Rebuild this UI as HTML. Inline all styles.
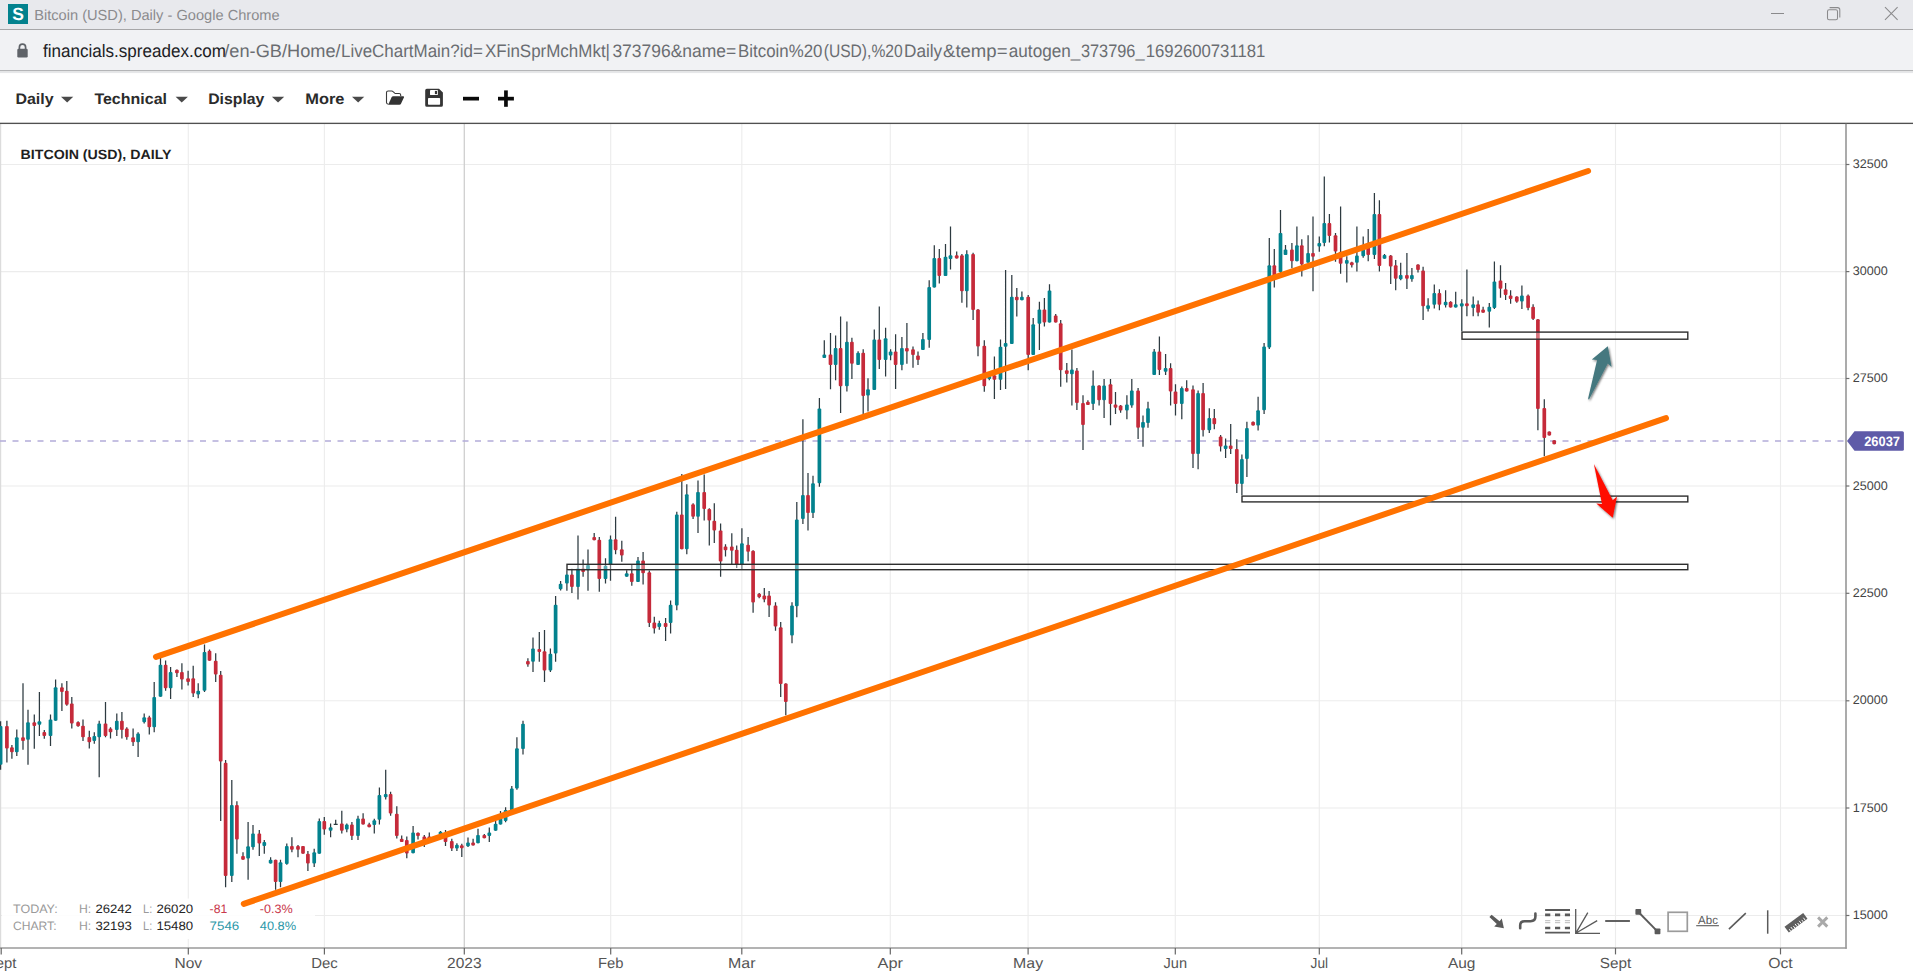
<!DOCTYPE html><html><head><meta charset="utf-8"><title>Bitcoin (USD), Daily</title><style>html,body{margin:0;padding:0;background:#fff;overflow:hidden;font-family:"Liberation Sans",sans-serif}svg{display:block}</style></head><body><svg width="1913" height="980" viewBox="0 0 1913 980" font-family='"Liberation Sans", sans-serif' text-rendering="geometricPrecision"><rect x="0" y="0" width="1913" height="980" fill="#ffffff"/>
<rect x="0" y="0" width="1913" height="29" fill="#e8e9ed"/>
<rect x="0" y="29" width="1913" height="1" fill="#a6a6a8"/>
<rect x="0" y="30" width="1913" height="41" fill="#f1f2f4"/>
<rect x="0" y="70" width="1913" height="1.4" fill="#b4b5b7"/>
<rect x="0" y="71.3" width="1913" height="1.8" fill="#e6e7e9"/>
<rect x="8" y="4" width="20" height="20" fill="#03828e"/>
<text x="18" y="20.3" font-size="17.5" fill="#ffffff" font-weight="bold" text-anchor="middle">S</text>
<text x="34.2" y="20.2" font-size="14.6" fill="#8b8b8d" textLength="245.5" lengthAdjust="spacingAndGlyphs">Bitcoin (USD), Daily - Google Chrome</text>
<g fill="none" stroke="#8a8a8c" stroke-width="1.05">
<path d="M1771 13.5H1784"/>
<rect x="1827.5" y="9.8" width="10" height="10" rx="1.6"/>
<path d="M1829.6 7.6H1837.6Q1839.8 7.6 1839.8 9.8V17.6"/>
<path d="M1885 7.2L1897.6 19.9M1897.6 7.2L1885 19.9"/>
</g>
<g fill="#5f6368"><rect x="17.3" y="48.8" width="10.4" height="8.6" rx="1.2"/><path d="M19.4 49.5V47.3a3.1 3.1 0 0 1 6.2 0V49.5" fill="none" stroke="#5f6368" stroke-width="1.7"/></g>
<text x="42.9" y="56.7" font-size="18" fill="#202124" textLength="183" lengthAdjust="spacingAndGlyphs">financials.spreadex.com</text>
<text x="224.3" y="56.7" font-size="18" fill="#6a6d71" textLength="116.3" lengthAdjust="spacingAndGlyphs">/en-GB/Home/</text>
<text x="341" y="56.7" font-size="18" fill="#6a6d71" textLength="141.8" lengthAdjust="spacingAndGlyphs">LiveChartMain?id=</text>
<text x="485" y="56.7" font-size="18" fill="#6a6d71" textLength="125" lengthAdjust="spacingAndGlyphs">XFinSprMchMkt|</text>
<text x="612.4" y="56.7" font-size="18" fill="#6a6d71" textLength="123.8" lengthAdjust="spacingAndGlyphs">373796&amp;name=</text>
<text x="738.1" y="56.7" font-size="18" fill="#6a6d71" textLength="84.3" lengthAdjust="spacingAndGlyphs">Bitcoin%20</text>
<text x="823.7" y="56.7" font-size="18" fill="#6a6d71" textLength="79" lengthAdjust="spacingAndGlyphs">(USD),%20</text>
<text x="904" y="56.7" font-size="18" fill="#6a6d71" textLength="38.2" lengthAdjust="spacingAndGlyphs">Daily</text>
<text x="943" y="56.7" font-size="18" fill="#6a6d71" textLength="64.5" lengthAdjust="spacingAndGlyphs">&amp;temp=</text>
<text x="1008.8" y="56.7" font-size="18" fill="#6a6d71" textLength="71.5" lengthAdjust="spacingAndGlyphs">autogen_</text>
<text x="1080.9" y="56.7" font-size="18" fill="#6a6d71" textLength="63.6" lengthAdjust="spacingAndGlyphs">373796_</text>
<text x="1145.8" y="56.7" font-size="18" fill="#6a6d71" textLength="119.5" lengthAdjust="spacingAndGlyphs">1692600731181</text>
<text x="15.4" y="104.1" font-size="15.2" fill="#2b2b2b" font-weight="bold" textLength="38.2" lengthAdjust="spacingAndGlyphs">Daily</text>
<path d="M61 96.7H73.3L67.15 102.5Z" fill="#4a4a4a"/>
<text x="94.4" y="104.1" font-size="15.2" fill="#2b2b2b" font-weight="bold" textLength="72.6" lengthAdjust="spacingAndGlyphs">Technical</text>
<path d="M175.6 96.7H187.9L181.75 102.5Z" fill="#4a4a4a"/>
<text x="208.2" y="104.1" font-size="15.2" fill="#2b2b2b" font-weight="bold" textLength="56.2" lengthAdjust="spacingAndGlyphs">Display</text>
<path d="M271.9 96.7H284.2L278.04999999999995 102.5Z" fill="#4a4a4a"/>
<text x="305.3" y="104.1" font-size="15.2" fill="#2b2b2b" font-weight="bold" textLength="39.2" lengthAdjust="spacingAndGlyphs">More</text>
<path d="M352 96.7H364.3L358.15 102.5Z" fill="#4a4a4a"/>
<path d="M388.4 104.2q-1.9 0-1.9-1.6V92.6q0-1.6 1.6-1.6h3.6q.8 0 1.4.6l1.6 1.5q.5.4 1.2.4h3.3q1.5 0 1.5 1.4v1.2" fill="none" stroke="#3a3a3a" stroke-width="1.1"/>
<path d="M388.2 104.8l3.3-7.4q.5-1.1 1.7-1.1h9.9q1.3 0 .8 1.2l-2.9 6.3q-.5 1-1.6 1z" fill="#333"/>
<path d="M426.8 88.8h12.2l3.9 3.7v12.7q0 1.6-1.6 1.6h-14.5q-1.6 0-1.6-1.6v-14.8q0-1.6 1.6-1.6z" fill="#353535"/>
<rect x="428.0" y="98.0" width="12.1" height="6.8" rx="0.7" fill="#ffffff"/>
<rect x="430.0" y="90.0" width="7.9" height="5.0" rx="0.4" fill="#ffffff"/>
<rect x="434.9" y="90.9" width="2.2" height="3.2" fill="#353535"/>
<rect x="463.0" y="96.8" width="16" height="3.7" fill="#0a0a0a"/>
<rect x="498.0" y="96.8" width="15.9" height="3.7" fill="#0a0a0a"/>
<rect x="504.1" y="90.4" width="3.7" height="16.4" fill="#0a0a0a"/>
<g stroke="#ececec" stroke-width="1.1">
<path d="M188.3 124V948.0"/>
<path d="M324.4 124V948.0"/>
<path d="M610.7 124V948.0"/>
<path d="M741.8 124V948.0"/>
<path d="M890.3 124V948.0"/>
<path d="M1028.1 124V948.0"/>
<path d="M1175.3 124V948.0"/>
<path d="M1319.3 124V948.0"/>
<path d="M1461.7 124V948.0"/>
<path d="M1615.5 124V948.0"/>
<path d="M1780.5 124V948.0"/>
<path d="M0 915.5H1846.0"/>
<path d="M0 808.0H1846.0"/>
<path d="M0 700.8H1846.0"/>
<path d="M0 593.3H1846.0"/>
<path d="M0 486.0H1846.0"/>
<path d="M0 378.5H1846.0"/>
<path d="M0 271.6H1846.0"/>
<path d="M0 164.5H1846.0"/>
</g>
<path d="M464.3 124V948.0" stroke="#cfcfcf" stroke-width="1.3"/>
<path d="M0.6 124V948.0" stroke="#dcdcdc" stroke-width="1.2"/>
<rect x="2" y="898.5" width="313" height="40.5" fill="#ffffff" fill-opacity="0.9"/>
<path d="M0 441H1846.0" stroke="#b3acd9" stroke-width="1.5" stroke-dasharray="6 6.5" fill="none"/>
<path d="M0.6 721.2V769.8M6.9 720.8V762.5M11.9 744.9V758.7M16.8 729.6V755.9M23 683.3V749.8M28 709.7V764.8M34.3 714.6V748.7M39.4 692.1V736M44.3 729.9V738.8M50.5 714.6V746M55.6 679.5V720.8M61.9 683.3V710.9M66.8 680.9V705.8M71.8 697.1V728.5M78.1 721.2V726.8M83 719.6V741.1M89.3 730.8V748.4M94.3 732.2V743.7M99.2 720.8V777.3M105.5 702V737.2M110.5 727.3V738.5M116.8 713.5V736M121.9 712V738.5M126.8 727.3V739.8M133.1 728.5V746M138.1 732.2V757.1M144.2 713.5V723.4M149.3 715.8V734.6M154.2 682.1V732.3M160.5 656.9V696.8M165.6 660.4V690.8M170.6 667V699M176.9 669.5V677M181.9 663.2V689.6M188.1 670.7V685.5M193.2 665.7V697.1M198.2 683.3V698.3M204.5 644.4V692.1M209.5 649.4V660.7M215.7 653.2V682M220.7 671V820.9M225.6 760V887.3M231.8 779.9V882.1M236.9 801.3V853.7M243 852.3V859.8M248.1 822V879.7M253 825V849.8M259.3 829.9V856M264.3 840V853.7M270.6 857.2V863.6M275.6 859.8V889.8M280.5 859.8V887.3M286.8 843.4V864.8M291.9 837.3V852.3M298 844.9V857.2M303 846V853.7M307.9 851.1V871M314.2 848.8V867.1M319.3 818.4V853.7M324.3 816.9V834.7M330.6 823.5V837.3M335.7 819.7V824.9M333.7 824.3H337.7M341.8 810.8V833.4M346.8 823.5V832.2M351.9 822V839.9M358 815.8V839.9M363.1 813.2V824.6M369.2 822.7V827.3M374.3 818.8V833.6M379.4 787.4V824.6M385.7 769.8V799.6M390.6 791.7V815.7M396.8 806.2V838.4M401.7 835.6V842M406.8 836.4V858.3M413.1 826.1V853.2M418 832.5V839.4M424.3 835.1V847.1M429.3 832.5V841M434.2 837.6V840.7M440.5 831V835.1M445.5 829.9V845.9M451.8 838.7V850.9M456.9 843.3V850.9M461.8 843.7V857M468 837.4V847.1M473.1 838.7V845.6M478 828.7V843.3M484.3 834.1V838.2M489.3 827.6V842M495.6 821.1V830.7M500.5 811.1V824.6M505.6 807.3V822.3M511.8 786.1V810.3M516.9 737.3V789.7M523 720.8V754.5M527.9 658.2V666.8M533 637.4V671.9M539.3 632.1V661.8M544.5 630V682.1M550.4 648.5V671.9M555.6 595.9V661.8M560.6 580.9V590.6M566.9 570.2V590.7M571.9 568.8V593.1M578 535.4V599.4M583.1 559.6V576.8M588 549.6V590.7M594.2 533V540.3M599.3 537V591.8M605.5 558.2V583.4M610.5 535.4V580.8M615.6 516.7V554.2M621.8 540.7V561.8M626.7 570.2V576.8M631.8 564.5V585.7M638 556.9V582.1M643.1 552V584.4M649.3 570.6V627M654.3 616.7V633.4M659.3 620.7V629.7M665.6 618V641M670.6 600.5V633.4M676.8 511.8V610.3M681.8 474V549.3M686.8 484.3V554.2M693.1 503.2V519.1M698 480.6V533M704.2 474.6V520.4M709.3 508.2V545.6M714.3 503.2V543M720.6 523.6V576.8M725.5 544.3V556.6M731.8 533.3V564.9M736.7 545.6V568M741.9 528.2V569.5M748.1 537V561.2M753.1 550.2V612.7M759.2 593V598.2M764.3 588.1V602.2M769.1 590.9V616.9M775.5 602.2V630.8M780.7 622.1V697.1M785.8 683.2V715.3M792 602.2V643.3M796.8 502.1V617.3M802.9 419.2V524.1M808 473.1V530.4M813 475.8V518.1M819.4 397.9V486.8M824.3 340.3V358M830.5 333V389.3M835.6 335.5V380.2M840.6 316.6V412.9M846.9 321.6V391.5M851.9 337.7V378.9M858.1 351.3V365M863.2 349.3V414.1M868 378.2V411.5M874.3 329.4V390.1M879.3 306.5V369M885.6 327.8V376.4M890.6 349.3V360.3M895.6 334.3V388.9M901.9 336.9V370.2M906.9 323V363.8M913 346.4V367.7M918 351.6V365M922.9 333V350.1M929.2 280.2V347.7M934.3 245.3V287.6M939.3 249V283.4M945.5 243.9V276M950.5 226.4V269.6M956.7 251.6V258.6M961.9 254V302.7M966.8 250.3V307.6M973.1 252.7V320.1M978 309.1V356.3M984.3 340.3V391.7M989.3 374.3V380.2M994.4 356.5V399.1M1000.5 339.4V389.9M1005.6 270V389M1011.8 275.1V344M1016.8 288V316.4M1021.9 291.6V300.3M1028.2 294.9V370.3M1033.2 317.9V355M1039.4 301.7V350.1M1044.4 298.1V326.5M1049.5 284.3V322.5M1055.7 314V322.5M1060.7 320.1V386.8M1066.8 362.9V382.6M1071.9 349.4V405.4M1076.9 368.1V410M1083 395.3V450.1M1087.9 400.3V405M1093.1 370.5V410M1099.1 385.2V405.4M1104.1 379.1V417.9M1110.5 379.1V425.3M1115.5 392V414M1120.6 404.9V412.8M1126.9 395.3V419.2M1131.8 379.1V407.8M1138.1 388V439M1143 415.5V446.7M1148 401.7V427.8M1154.2 349V375.1M1159.4 336.5V375.1M1165.6 354V375.1M1170.6 363.2V405.4M1175.5 384.3V415.5M1181.8 386.5V419.2M1186.7 380.2V391.6M1193 385.6V467.9M1198.1 390.4V469.2M1203.1 383V436.6M1209.3 408.2V433M1214.3 409.1V429.3M1220.6 435.1V451.6M1225.6 438.4V458M1230.7 424V454M1236.8 439.3V493.1M1241.9 454.4V495.3M1246.9 421.8V477M1253.1 421.5V425.5M1258.1 396.7V430.5M1264.1 342.9V414.1M1269.3 238V348.9M1274.3 249V287.6M1280.5 210V272.9M1285.5 244.9V254.9M1291.9 242.9V268.3M1296.9 226.6V261.3M1301.8 239.3V276.5M1308.1 235.2V262.8M1313 216.5V291.2M1319.3 236.5V251.7M1324.3 176.4V246.2M1329.4 214.1V242.6M1335.5 233V261.8M1340.6 206.4V273.8M1346.8 256.3V282.6M1351.8 261.8V267.4M1356.9 226.6V271.6M1363.2 236.5V257.8M1368.2 229.1V261.3M1374.4 193V259.1M1379.4 200.3V271.6M1384.5 253.9V258.7M1390.7 254.9V283.9M1395.7 260V290.3M1400.7 262.8V280.2M1406.9 253V289M1411.9 267.9V281.7M1418 264.2V272.4M1423.1 266.7V319.9M1428.1 298.2V311.4M1434.3 284.4V308.6M1439.4 289.3V310.2M1445.6 290.3V307.6M1450.6 301.2V307.6M1455.7 291.8V307.6M1461.8 299.2V331.3M1466.9 269.4V316.3M1473.2 296.6V316.3M1478.1 300.5V316.3M1483.1 306.8V312.8M1489.3 303.1V327.6M1494.4 261.6V308.9M1500.5 265.3V297.7M1505.6 283.1V300M1510.6 290.3V303.8M1516.8 296.3V302.8M1521.9 285.4V308.9M1528.1 294.4V310.2M1533.1 304.3V320.1M1537.9 319.1V430.2M1544.3 399.3V456.3M1549.3 431.6V435.5M1554.2 440.3V444.2" stroke="#2d3a40" stroke-width="1.25" fill="none"/>
<rect x="-1.25" y="726.1" width="3.7" height="38.7" rx="1.0" fill="#03828e"/><rect x="5.05" y="726.1" width="3.7" height="22.3" rx="1.0" fill="#c52a3a"/><rect x="10.05" y="747.2" width="3.7" height="5.0" rx="1.0" fill="#c52a3a"/><rect x="14.95" y="737.2" width="3.7" height="15.0" rx="1.0" fill="#03828e"/><rect x="21.15" y="737.2" width="3.7" height="3.9" rx="1.0" fill="#c52a3a"/><rect x="26.15" y="722.2" width="3.7" height="17.6" rx="1.0" fill="#03828e"/><rect x="32.45" y="722.2" width="3.7" height="3.9" rx="1.0" fill="#c52a3a"/><rect x="37.55" y="721.2" width="3.7" height="3.5" rx="1.0" fill="#03828e"/><rect x="42.45" y="731.9" width="3.7" height="4.1" rx="1.0" fill="#c52a3a"/><rect x="48.65" y="719.6" width="3.7" height="16.4" rx="1.0" fill="#03828e"/><rect x="53.75" y="687.2" width="3.7" height="33.6" rx="1.0" fill="#03828e"/><rect x="60.05" y="687.2" width="3.7" height="4.9" rx="1.0" fill="#c52a3a"/><rect x="64.95" y="690.8" width="3.7" height="14.0" rx="1.0" fill="#c52a3a"/><rect x="69.95" y="703.5" width="3.7" height="19.9" rx="1.0" fill="#c52a3a"/><rect x="76.25" y="721.9" width="3.7" height="4.3" rx="1.0" fill="#c52a3a"/><rect x="81.15" y="725.7" width="3.7" height="11.5" rx="1.0" fill="#c52a3a"/><rect x="87.45" y="736.9" width="3.7" height="5.4" rx="1.0" fill="#c52a3a"/><rect x="92.45" y="736.0" width="3.7" height="5.1" rx="1.0" fill="#03828e"/><rect x="97.35" y="723.4" width="3.7" height="13.8" rx="1.0" fill="#03828e"/><rect x="103.65" y="723.4" width="3.7" height="12.6" rx="1.0" fill="#c52a3a"/><rect x="108.65" y="728.5" width="3.7" height="3.8" rx="1.0" fill="#c52a3a"/><rect x="114.95" y="720.8" width="3.7" height="9.1" rx="1.0" fill="#03828e"/><rect x="120.05" y="720.8" width="3.7" height="9.1" rx="1.0" fill="#c52a3a"/><rect x="124.95" y="728.5" width="3.7" height="8.7" rx="1.0" fill="#c52a3a"/><rect x="131.25" y="737.2" width="3.7" height="5.1" rx="1.0" fill="#c52a3a"/><rect x="136.25" y="733.4" width="3.7" height="8.9" rx="1.0" fill="#03828e"/><rect x="142.35" y="717.3" width="3.7" height="4.9" rx="1.0" fill="#03828e"/><rect x="147.45" y="717.3" width="3.7" height="10.0" rx="1.0" fill="#c52a3a"/><rect x="152.35" y="697.1" width="3.7" height="30.2" rx="1.0" fill="#03828e"/><rect x="158.65" y="664.8" width="3.7" height="32.0" rx="1.0" fill="#03828e"/><rect x="163.75" y="664.8" width="3.7" height="23.5" rx="1.0" fill="#c52a3a"/><rect x="168.75" y="672.0" width="3.7" height="16.3" rx="1.0" fill="#03828e"/><rect x="175.05" y="669.8" width="3.7" height="3.4" rx="1.0" fill="#c52a3a"/><rect x="180.05" y="672.0" width="3.7" height="7.5" rx="1.0" fill="#c52a3a"/><rect x="186.25" y="678.3" width="3.7" height="3.7" rx="1.0" fill="#c52a3a"/><rect x="191.35" y="678.3" width="3.7" height="15.3" rx="1.0" fill="#c52a3a"/><rect x="196.35" y="690.8" width="3.7" height="3.8" rx="1.0" fill="#03828e"/><rect x="202.65" y="651.9" width="3.7" height="38.9" rx="1.0" fill="#03828e"/><rect x="207.65" y="650.7" width="3.7" height="10.0" rx="1.0" fill="#c52a3a"/><rect x="213.85" y="660.7" width="3.7" height="13.8" rx="1.0" fill="#c52a3a"/><rect x="218.85" y="674.8" width="3.7" height="86.7" rx="1.0" fill="#c52a3a"/><rect x="223.75" y="762.7" width="3.7" height="113.2" rx="1.0" fill="#c52a3a"/><rect x="229.95" y="805.1" width="3.7" height="70.8" rx="1.0" fill="#03828e"/><rect x="235.05" y="805.1" width="3.7" height="34.5" rx="1.0" fill="#c52a3a"/><rect x="241.15" y="856.1" width="3.7" height="3.7" rx="1.0" fill="#c52a3a"/><rect x="246.25" y="846.2" width="3.7" height="12.2" rx="1.0" fill="#03828e"/><rect x="251.15" y="833.4" width="3.7" height="13.8" rx="1.0" fill="#03828e"/><rect x="257.45" y="833.4" width="3.7" height="10.0" rx="1.0" fill="#c52a3a"/><rect x="262.45" y="841.9" width="3.7" height="4.1" rx="1.0" fill="#03828e"/><rect x="268.75" y="859.8" width="3.7" height="3.8" rx="1.0" fill="#03828e"/><rect x="273.75" y="859.8" width="3.7" height="22.3" rx="1.0" fill="#c52a3a"/><rect x="278.65" y="862.2" width="3.7" height="19.9" rx="1.0" fill="#03828e"/><rect x="284.95" y="846.0" width="3.7" height="18.1" rx="1.0" fill="#03828e"/><rect x="290.05" y="846.0" width="3.7" height="3.8" rx="1.0" fill="#c52a3a"/><rect x="296.15" y="846.0" width="3.7" height="3.8" rx="1.0" fill="#c52a3a"/><rect x="301.15" y="846.0" width="3.7" height="7.7" rx="1.0" fill="#c52a3a"/><rect x="306.05" y="853.7" width="3.7" height="9.9" rx="1.0" fill="#c52a3a"/><rect x="312.35" y="852.3" width="3.7" height="11.3" rx="1.0" fill="#03828e"/><rect x="317.45" y="820.9" width="3.7" height="32.8" rx="1.0" fill="#03828e"/><rect x="322.45" y="820.9" width="3.7" height="8.7" rx="1.0" fill="#c52a3a"/><rect x="328.75" y="827.3" width="3.7" height="3.5" rx="1.0" fill="#03828e"/><rect x="339.95" y="823.5" width="3.7" height="7.3" rx="1.0" fill="#c52a3a"/><rect x="344.95" y="824.6" width="3.7" height="5.0" rx="1.0" fill="#03828e"/><rect x="350.05" y="824.6" width="3.7" height="11.5" rx="1.0" fill="#c52a3a"/><rect x="356.15" y="818.4" width="3.7" height="17.7" rx="1.0" fill="#03828e"/><rect x="361.25" y="818.4" width="3.7" height="6.2" rx="1.0" fill="#c52a3a"/><rect x="367.35" y="824.3" width="3.7" height="3.0" rx="1.0" fill="#c52a3a"/><rect x="372.45" y="820.3" width="3.7" height="4.6" rx="1.0" fill="#03828e"/><rect x="377.55" y="795.0" width="3.7" height="24.8" rx="1.0" fill="#03828e"/><rect x="383.85" y="794.0" width="3.7" height="3.3" rx="1.0" fill="#03828e"/><rect x="388.75" y="794.0" width="3.7" height="19.4" rx="1.0" fill="#c52a3a"/><rect x="394.95" y="813.7" width="3.7" height="22.4" rx="1.0" fill="#c52a3a"/><rect x="399.85" y="838.7" width="3.7" height="3.3" rx="1.0" fill="#c52a3a"/><rect x="404.95" y="839.9" width="3.7" height="13.6" rx="1.0" fill="#c52a3a"/><rect x="411.25" y="832.5" width="3.7" height="20.7" rx="1.0" fill="#03828e"/><rect x="416.15" y="832.8" width="3.7" height="3.3" rx="1.0" fill="#c52a3a"/><rect x="422.45" y="836.4" width="3.7" height="6.1" rx="1.0" fill="#c52a3a"/><rect x="427.45" y="836.4" width="3.7" height="3.8" rx="1.0" fill="#c52a3a"/><rect x="432.35" y="837.9" width="3.7" height="2.4" rx="1.0" fill="#c52a3a"/><rect x="438.65" y="831.8" width="3.7" height="3.0" rx="1.0" fill="#03828e"/><rect x="443.65" y="833.3" width="3.7" height="8.7" rx="1.0" fill="#c52a3a"/><rect x="449.95" y="841.0" width="3.7" height="7.6" rx="1.0" fill="#c52a3a"/><rect x="455.05" y="844.8" width="3.7" height="3.8" rx="1.0" fill="#03828e"/><rect x="459.95" y="845.2" width="3.7" height="3.1" rx="1.0" fill="#c52a3a"/><rect x="466.15" y="842.5" width="3.7" height="3.8" rx="1.0" fill="#03828e"/><rect x="471.25" y="842.5" width="3.7" height="3.1" rx="1.0" fill="#c52a3a"/><rect x="476.15" y="835.1" width="3.7" height="8.2" rx="1.0" fill="#03828e"/><rect x="482.45" y="835.1" width="3.7" height="3.1" rx="1.0" fill="#c52a3a"/><rect x="487.45" y="832.5" width="3.7" height="3.6" rx="1.0" fill="#03828e"/><rect x="493.75" y="823.7" width="3.7" height="7.0" rx="1.0" fill="#03828e"/><rect x="498.65" y="818.8" width="3.7" height="5.8" rx="1.0" fill="#03828e"/><rect x="503.75" y="809.9" width="3.7" height="11.2" rx="1.0" fill="#03828e"/><rect x="509.95" y="788.4" width="3.7" height="21.9" rx="1.0" fill="#03828e"/><rect x="515.05" y="748.3" width="3.7" height="40.1" rx="1.0" fill="#03828e"/><rect x="521.15" y="723.8" width="3.7" height="25.3" rx="1.0" fill="#03828e"/><rect x="526.05" y="660.9" width="3.7" height="3.6" rx="1.0" fill="#c52a3a"/><rect x="531.15" y="648.5" width="3.7" height="13.3" rx="1.0" fill="#03828e"/><rect x="537.45" y="648.9" width="3.7" height="3.1" rx="1.0" fill="#c52a3a"/><rect x="542.65" y="651.2" width="3.7" height="19.4" rx="1.0" fill="#c52a3a"/><rect x="548.55" y="653.8" width="3.7" height="16.8" rx="1.0" fill="#03828e"/><rect x="553.75" y="604.8" width="3.7" height="48.8" rx="1.0" fill="#03828e"/><rect x="558.75" y="583.7" width="3.7" height="5.5" rx="1.0" fill="#03828e"/><rect x="565.05" y="574.4" width="3.7" height="9.0" rx="1.0" fill="#03828e"/><rect x="570.05" y="574.4" width="3.7" height="12.6" rx="1.0" fill="#c52a3a"/><rect x="576.15" y="568.4" width="3.7" height="18.6" rx="1.0" fill="#03828e"/><rect x="581.25" y="568.4" width="3.7" height="3.5" rx="1.0" fill="#c52a3a"/><rect x="586.15" y="564.9" width="3.7" height="5.3" rx="1.0" fill="#03828e"/><rect x="592.35" y="537.0" width="3.7" height="3.3" rx="1.0" fill="#c52a3a"/><rect x="597.45" y="539.7" width="3.7" height="39.4" rx="1.0" fill="#c52a3a"/><rect x="603.65" y="565.8" width="3.7" height="13.3" rx="1.0" fill="#03828e"/><rect x="608.65" y="539.3" width="3.7" height="25.6" rx="1.0" fill="#03828e"/><rect x="613.75" y="539.3" width="3.7" height="11.0" rx="1.0" fill="#c52a3a"/><rect x="619.95" y="549.3" width="3.7" height="6.3" rx="1.0" fill="#c52a3a"/><rect x="624.85" y="573.2" width="3.7" height="3.6" rx="1.0" fill="#03828e"/><rect x="629.95" y="573.2" width="3.7" height="8.9" rx="1.0" fill="#c52a3a"/><rect x="636.15" y="560.6" width="3.7" height="21.5" rx="1.0" fill="#03828e"/><rect x="641.25" y="560.6" width="3.7" height="12.6" rx="1.0" fill="#c52a3a"/><rect x="647.45" y="572.2" width="3.7" height="50.9" rx="1.0" fill="#c52a3a"/><rect x="652.45" y="622.4" width="3.7" height="6.0" rx="1.0" fill="#c52a3a"/><rect x="657.45" y="623.1" width="3.7" height="3.9" rx="1.0" fill="#03828e"/><rect x="663.75" y="623.1" width="3.7" height="3.9" rx="1.0" fill="#c52a3a"/><rect x="668.75" y="604.8" width="3.7" height="18.3" rx="1.0" fill="#03828e"/><rect x="674.95" y="514.4" width="3.7" height="91.1" rx="1.0" fill="#03828e"/><rect x="679.95" y="514.4" width="3.7" height="34.9" rx="1.0" fill="#c52a3a"/><rect x="684.95" y="494.3" width="3.7" height="55.0" rx="1.0" fill="#03828e"/><rect x="691.25" y="504.2" width="3.7" height="12.5" rx="1.0" fill="#c52a3a"/><rect x="696.15" y="491.9" width="3.7" height="24.8" rx="1.0" fill="#03828e"/><rect x="702.35" y="491.9" width="3.7" height="17.2" rx="1.0" fill="#c52a3a"/><rect x="707.45" y="509.1" width="3.7" height="11.3" rx="1.0" fill="#c52a3a"/><rect x="712.45" y="520.7" width="3.7" height="9.7" rx="1.0" fill="#c52a3a"/><rect x="718.75" y="530.4" width="3.7" height="31.2" rx="1.0" fill="#c52a3a"/><rect x="723.65" y="546.5" width="3.7" height="3.7" rx="1.0" fill="#c52a3a"/><rect x="729.95" y="546.5" width="3.7" height="4.3" rx="1.0" fill="#c52a3a"/><rect x="734.85" y="549.7" width="3.7" height="15.2" rx="1.0" fill="#c52a3a"/><rect x="740.05" y="543.2" width="3.7" height="21.7" rx="1.0" fill="#03828e"/><rect x="746.25" y="544.7" width="3.7" height="7.0" rx="1.0" fill="#c52a3a"/><rect x="751.25" y="550.8" width="3.7" height="51.8" rx="1.0" fill="#c52a3a"/><rect x="757.35" y="593.8" width="3.7" height="3.5" rx="1.0" fill="#c52a3a"/><rect x="762.45" y="595.6" width="3.7" height="4.0" rx="1.0" fill="#c52a3a"/><rect x="767.25" y="595.6" width="3.7" height="9.9" rx="1.0" fill="#c52a3a"/><rect x="773.65" y="605.5" width="3.7" height="21.0" rx="1.0" fill="#c52a3a"/><rect x="778.85" y="627.3" width="3.7" height="56.8" rx="1.0" fill="#c52a3a"/><rect x="783.95" y="683.6" width="3.7" height="18.4" rx="1.0" fill="#c52a3a"/><rect x="790.15" y="605.5" width="3.7" height="30.0" rx="1.0" fill="#03828e"/><rect x="794.95" y="519.4" width="3.7" height="86.8" rx="1.0" fill="#03828e"/><rect x="801.05" y="495.1" width="3.7" height="23.9" rx="1.0" fill="#03828e"/><rect x="806.15" y="495.1" width="3.7" height="18.0" rx="1.0" fill="#c52a3a"/><rect x="811.15" y="483.2" width="3.7" height="29.9" rx="1.0" fill="#03828e"/><rect x="817.55" y="408.5" width="3.7" height="74.7" rx="1.0" fill="#03828e"/><rect x="822.45" y="354.6" width="3.7" height="3.4" rx="1.0" fill="#03828e"/><rect x="828.65" y="354.6" width="3.7" height="10.4" rx="1.0" fill="#c52a3a"/><rect x="833.75" y="348.1" width="3.7" height="16.9" rx="1.0" fill="#03828e"/><rect x="838.75" y="348.1" width="3.7" height="38.2" rx="1.0" fill="#c52a3a"/><rect x="845.05" y="341.7" width="3.7" height="44.6" rx="1.0" fill="#03828e"/><rect x="850.05" y="341.7" width="3.7" height="22.1" rx="1.0" fill="#c52a3a"/><rect x="856.25" y="352.8" width="3.7" height="12.2" rx="1.0" fill="#03828e"/><rect x="861.35" y="352.8" width="3.7" height="43.2" rx="1.0" fill="#c52a3a"/><rect x="866.15" y="389.3" width="3.7" height="6.2" rx="1.0" fill="#03828e"/><rect x="872.45" y="339.5" width="3.7" height="50.6" rx="1.0" fill="#03828e"/><rect x="877.45" y="339.5" width="3.7" height="20.4" rx="1.0" fill="#c52a3a"/><rect x="883.75" y="338.2" width="3.7" height="21.7" rx="1.0" fill="#03828e"/><rect x="888.75" y="351.6" width="3.7" height="4.0" rx="1.0" fill="#03828e"/><rect x="893.75" y="351.6" width="3.7" height="13.4" rx="1.0" fill="#c52a3a"/><rect x="900.05" y="348.1" width="3.7" height="16.9" rx="1.0" fill="#03828e"/><rect x="905.05" y="348.1" width="3.7" height="3.5" rx="1.0" fill="#c52a3a"/><rect x="911.15" y="349.3" width="3.7" height="5.8" rx="1.0" fill="#c52a3a"/><rect x="916.15" y="355.6" width="3.7" height="4.3" rx="1.0" fill="#c52a3a"/><rect x="921.05" y="339.0" width="3.7" height="11.1" rx="1.0" fill="#03828e"/><rect x="927.35" y="287.0" width="3.7" height="52.9" rx="1.0" fill="#03828e"/><rect x="932.45" y="258.0" width="3.7" height="29.6" rx="1.0" fill="#03828e"/><rect x="937.45" y="258.0" width="3.7" height="18.0" rx="1.0" fill="#c52a3a"/><rect x="943.65" y="256.7" width="3.7" height="19.3" rx="1.0" fill="#03828e"/><rect x="948.65" y="255.3" width="3.7" height="3.6" rx="1.0" fill="#03828e"/><rect x="954.85" y="255.3" width="3.7" height="3.3" rx="1.0" fill="#c52a3a"/><rect x="960.05" y="255.3" width="3.7" height="36.0" rx="1.0" fill="#c52a3a"/><rect x="964.95" y="254.0" width="3.7" height="37.3" rx="1.0" fill="#03828e"/><rect x="971.25" y="254.0" width="3.7" height="56.0" rx="1.0" fill="#c52a3a"/><rect x="976.15" y="309.5" width="3.7" height="36.9" rx="1.0" fill="#c52a3a"/><rect x="982.45" y="345.8" width="3.7" height="40.4" rx="1.0" fill="#c52a3a"/><rect x="987.45" y="376.1" width="3.7" height="2.8" rx="1.0" fill="#03828e"/><rect x="992.55" y="375.2" width="3.7" height="4.6" rx="1.0" fill="#c52a3a"/><rect x="998.65" y="346.7" width="3.7" height="33.1" rx="1.0" fill="#03828e"/><rect x="1003.75" y="343.1" width="3.7" height="3.6" rx="1.0" fill="#03828e"/><rect x="1009.95" y="296.8" width="3.7" height="47.2" rx="1.0" fill="#03828e"/><rect x="1014.95" y="296.8" width="3.7" height="3.5" rx="1.0" fill="#c52a3a"/><rect x="1020.05" y="296.8" width="3.7" height="3.5" rx="1.0" fill="#03828e"/><rect x="1026.35" y="296.8" width="3.7" height="58.2" rx="1.0" fill="#c52a3a"/><rect x="1031.35" y="324.2" width="3.7" height="30.8" rx="1.0" fill="#03828e"/><rect x="1037.55" y="309.5" width="3.7" height="14.3" rx="1.0" fill="#03828e"/><rect x="1042.55" y="309.5" width="3.7" height="13.0" rx="1.0" fill="#c52a3a"/><rect x="1047.65" y="290.4" width="3.7" height="32.1" rx="1.0" fill="#03828e"/><rect x="1053.85" y="315.5" width="3.7" height="7.0" rx="1.0" fill="#c52a3a"/><rect x="1058.85" y="323.2" width="3.7" height="47.1" rx="1.0" fill="#c52a3a"/><rect x="1064.95" y="370.3" width="3.7" height="3.6" rx="1.0" fill="#c52a3a"/><rect x="1070.05" y="369.6" width="3.7" height="4.6" rx="1.0" fill="#03828e"/><rect x="1075.05" y="370.5" width="3.7" height="32.5" rx="1.0" fill="#c52a3a"/><rect x="1081.15" y="403.0" width="3.7" height="22.1" rx="1.0" fill="#c52a3a"/><rect x="1086.05" y="401.7" width="3.7" height="3.3" rx="1.0" fill="#c52a3a"/><rect x="1091.25" y="385.6" width="3.7" height="18.5" rx="1.0" fill="#03828e"/><rect x="1097.25" y="385.6" width="3.7" height="14.7" rx="1.0" fill="#c52a3a"/><rect x="1102.25" y="385.6" width="3.7" height="14.7" rx="1.0" fill="#03828e"/><rect x="1108.65" y="384.3" width="3.7" height="19.8" rx="1.0" fill="#c52a3a"/><rect x="1113.65" y="404.5" width="3.7" height="3.3" rx="1.0" fill="#c52a3a"/><rect x="1118.75" y="405.4" width="3.7" height="5.0" rx="1.0" fill="#c52a3a"/><rect x="1125.05" y="404.5" width="3.7" height="5.9" rx="1.0" fill="#03828e"/><rect x="1129.95" y="390.4" width="3.7" height="15.0" rx="1.0" fill="#03828e"/><rect x="1136.25" y="390.4" width="3.7" height="37.4" rx="1.0" fill="#c52a3a"/><rect x="1141.15" y="421.9" width="3.7" height="5.9" rx="1.0" fill="#03828e"/><rect x="1146.15" y="408.2" width="3.7" height="14.7" rx="1.0" fill="#03828e"/><rect x="1152.35" y="351.6" width="3.7" height="23.5" rx="1.0" fill="#03828e"/><rect x="1157.55" y="351.6" width="3.7" height="18.4" rx="1.0" fill="#c52a3a"/><rect x="1163.75" y="368.1" width="3.7" height="3.7" rx="1.0" fill="#03828e"/><rect x="1168.75" y="368.1" width="3.7" height="23.5" rx="1.0" fill="#c52a3a"/><rect x="1173.65" y="391.6" width="3.7" height="12.5" rx="1.0" fill="#c52a3a"/><rect x="1179.95" y="388.0" width="3.7" height="16.1" rx="1.0" fill="#03828e"/><rect x="1184.85" y="388.0" width="3.7" height="3.6" rx="1.0" fill="#c52a3a"/><rect x="1191.15" y="389.3" width="3.7" height="64.8" rx="1.0" fill="#c52a3a"/><rect x="1196.25" y="392.9" width="3.7" height="61.2" rx="1.0" fill="#03828e"/><rect x="1201.25" y="392.9" width="3.7" height="37.3" rx="1.0" fill="#c52a3a"/><rect x="1207.45" y="417.9" width="3.7" height="12.3" rx="1.0" fill="#03828e"/><rect x="1212.45" y="417.9" width="3.7" height="6.3" rx="1.0" fill="#c52a3a"/><rect x="1218.75" y="436.5" width="3.7" height="10.1" rx="1.0" fill="#c52a3a"/><rect x="1223.75" y="445.4" width="3.7" height="3.6" rx="1.0" fill="#03828e"/><rect x="1228.85" y="445.4" width="3.7" height="3.6" rx="1.0" fill="#c52a3a"/><rect x="1234.95" y="449.0" width="3.7" height="34.9" rx="1.0" fill="#c52a3a"/><rect x="1240.05" y="459.1" width="3.7" height="24.8" rx="1.0" fill="#03828e"/><rect x="1245.05" y="427.9" width="3.7" height="31.2" rx="1.0" fill="#03828e"/><rect x="1251.25" y="421.8" width="3.7" height="3.7" rx="1.0" fill="#c52a3a"/><rect x="1256.25" y="410.3" width="3.7" height="15.2" rx="1.0" fill="#03828e"/><rect x="1262.25" y="346.5" width="3.7" height="63.8" rx="1.0" fill="#03828e"/><rect x="1267.45" y="265.2" width="3.7" height="82.3" rx="1.0" fill="#03828e"/><rect x="1272.45" y="265.2" width="3.7" height="10.4" rx="1.0" fill="#c52a3a"/><rect x="1278.65" y="233.0" width="3.7" height="38.9" rx="1.0" fill="#03828e"/><rect x="1283.65" y="249.4" width="3.7" height="5.5" rx="1.0" fill="#03828e"/><rect x="1290.05" y="249.4" width="3.7" height="11.9" rx="1.0" fill="#c52a3a"/><rect x="1295.05" y="245.3" width="3.7" height="16.0" rx="1.0" fill="#03828e"/><rect x="1299.95" y="245.3" width="3.7" height="19.3" rx="1.0" fill="#c52a3a"/><rect x="1306.25" y="253.0" width="3.7" height="9.8" rx="1.0" fill="#03828e"/><rect x="1311.15" y="253.0" width="3.7" height="3.7" rx="1.0" fill="#c52a3a"/><rect x="1317.45" y="242.9" width="3.7" height="3.7" rx="1.0" fill="#03828e"/><rect x="1322.45" y="222.9" width="3.7" height="20.0" rx="1.0" fill="#03828e"/><rect x="1327.55" y="222.9" width="3.7" height="13.2" rx="1.0" fill="#c52a3a"/><rect x="1333.65" y="235.2" width="3.7" height="16.2" rx="1.0" fill="#c52a3a"/><rect x="1338.75" y="251.7" width="3.7" height="12.0" rx="1.0" fill="#c52a3a"/><rect x="1344.95" y="260.0" width="3.7" height="3.7" rx="1.0" fill="#03828e"/><rect x="1349.95" y="262.2" width="3.7" height="3.0" rx="1.0" fill="#c52a3a"/><rect x="1355.05" y="255.4" width="3.7" height="7.4" rx="1.0" fill="#03828e"/><rect x="1361.35" y="247.1" width="3.7" height="9.2" rx="1.0" fill="#03828e"/><rect x="1366.35" y="245.3" width="3.7" height="9.6" rx="1.0" fill="#c52a3a"/><rect x="1372.55" y="214.1" width="3.7" height="40.8" rx="1.0" fill="#03828e"/><rect x="1377.55" y="214.1" width="3.7" height="52.0" rx="1.0" fill="#c52a3a"/><rect x="1382.65" y="255.0" width="3.7" height="3.7" rx="1.0" fill="#03828e"/><rect x="1388.85" y="255.4" width="3.7" height="11.0" rx="1.0" fill="#c52a3a"/><rect x="1393.85" y="265.2" width="3.7" height="13.5" rx="1.0" fill="#c52a3a"/><rect x="1398.85" y="275.1" width="3.7" height="4.2" rx="1.0" fill="#03828e"/><rect x="1405.05" y="275.1" width="3.7" height="3.6" rx="1.0" fill="#c52a3a"/><rect x="1410.05" y="275.1" width="3.7" height="4.2" rx="1.0" fill="#03828e"/><rect x="1416.15" y="264.5" width="3.7" height="5.4" rx="1.0" fill="#c52a3a"/><rect x="1421.25" y="270.6" width="3.7" height="35.7" rx="1.0" fill="#c52a3a"/><rect x="1426.25" y="305.3" width="3.7" height="3.8" rx="1.0" fill="#03828e"/><rect x="1432.45" y="293.1" width="3.7" height="11.7" rx="1.0" fill="#03828e"/><rect x="1437.55" y="293.1" width="3.7" height="11.7" rx="1.0" fill="#c52a3a"/><rect x="1443.75" y="301.7" width="3.7" height="3.6" rx="1.0" fill="#03828e"/><rect x="1448.75" y="301.7" width="3.7" height="5.9" rx="1.0" fill="#c52a3a"/><rect x="1453.85" y="304.3" width="3.7" height="3.3" rx="1.0" fill="#03828e"/><rect x="1459.95" y="303.3" width="3.7" height="3.2" rx="1.0" fill="#03828e"/><rect x="1465.05" y="303.3" width="3.7" height="3.0" rx="1.0" fill="#c52a3a"/><rect x="1471.35" y="304.3" width="3.7" height="3.6" rx="1.0" fill="#03828e"/><rect x="1476.25" y="304.3" width="3.7" height="8.5" rx="1.0" fill="#c52a3a"/><rect x="1481.25" y="309.4" width="3.7" height="3.4" rx="1.0" fill="#c52a3a"/><rect x="1487.45" y="306.8" width="3.7" height="4.9" rx="1.0" fill="#03828e"/><rect x="1492.55" y="281.6" width="3.7" height="26.3" rx="1.0" fill="#03828e"/><rect x="1498.65" y="280.5" width="3.7" height="8.3" rx="1.0" fill="#c52a3a"/><rect x="1503.75" y="289.3" width="3.7" height="5.8" rx="1.0" fill="#c52a3a"/><rect x="1508.75" y="295.4" width="3.7" height="3.6" rx="1.0" fill="#c52a3a"/><rect x="1514.95" y="296.6" width="3.7" height="5.1" rx="1.0" fill="#c52a3a"/><rect x="1520.05" y="295.4" width="3.7" height="6.1" rx="1.0" fill="#03828e"/><rect x="1526.25" y="295.4" width="3.7" height="12.5" rx="1.0" fill="#c52a3a"/><rect x="1531.25" y="306.8" width="3.7" height="12.3" rx="1.0" fill="#c52a3a"/><rect x="1536.05" y="319.3" width="3.7" height="89.7" rx="1.0" fill="#c52a3a"/><rect x="1542.45" y="408.0" width="3.7" height="30.0" rx="1.0" fill="#c52a3a"/><rect x="1547.45" y="431.6" width="3.7" height="3.9" rx="1.0" fill="#c52a3a"/><rect x="1552.35" y="440.3" width="3.7" height="3.9" rx="1.0" fill="#c52a3a"/>
<rect x="0" y="122.7" width="1913" height="1.35" fill="#505050"/>
<path d="M1846.0 123.5V948.8" stroke="#787878" stroke-width="1.25" fill="none"/>
<path d="M0 948.0H1846.7" stroke="#9a9a9a" stroke-width="1.7" fill="none"/>
<path d="M1846.0 915.5h3.4" stroke="#707070" stroke-width="1.2"/>
<text x="1852.8" y="919.0" font-size="12.5" fill="#444" textLength="35" lengthAdjust="spacingAndGlyphs">15000</text>
<path d="M1846.0 808.0h3.4" stroke="#707070" stroke-width="1.2"/>
<text x="1852.8" y="811.5" font-size="12.5" fill="#444" textLength="35" lengthAdjust="spacingAndGlyphs">17500</text>
<path d="M1846.0 700.8h3.4" stroke="#707070" stroke-width="1.2"/>
<text x="1852.8" y="704.3" font-size="12.5" fill="#444" textLength="35" lengthAdjust="spacingAndGlyphs">20000</text>
<path d="M1846.0 593.3h3.4" stroke="#707070" stroke-width="1.2"/>
<text x="1852.8" y="596.8" font-size="12.5" fill="#444" textLength="35" lengthAdjust="spacingAndGlyphs">22500</text>
<path d="M1846.0 486.0h3.4" stroke="#707070" stroke-width="1.2"/>
<text x="1852.8" y="489.5" font-size="12.5" fill="#444" textLength="35" lengthAdjust="spacingAndGlyphs">25000</text>
<path d="M1846.0 378.5h3.4" stroke="#707070" stroke-width="1.2"/>
<text x="1852.8" y="382.0" font-size="12.5" fill="#444" textLength="35" lengthAdjust="spacingAndGlyphs">27500</text>
<path d="M1846.0 271.6h3.4" stroke="#707070" stroke-width="1.2"/>
<text x="1852.8" y="275.1" font-size="12.5" fill="#444" textLength="35" lengthAdjust="spacingAndGlyphs">30000</text>
<path d="M1846.0 164.5h3.4" stroke="#707070" stroke-width="1.2"/>
<text x="1852.8" y="168.0" font-size="12.5" fill="#444" textLength="35" lengthAdjust="spacingAndGlyphs">32500</text>
<path d="M1.2 948.0v6.4" stroke="#666" stroke-width="1.2"/>
<text x="1.2" y="967.5" font-size="14.6" fill="#555" text-anchor="middle" textLength="30.5" lengthAdjust="spacingAndGlyphs">Sept</text>
<path d="M188.3 948.0v6.4" stroke="#666" stroke-width="1.2"/>
<text x="188.3" y="967.5" font-size="14.6" fill="#555" text-anchor="middle" textLength="27.6" lengthAdjust="spacingAndGlyphs">Nov</text>
<path d="M324.4 948.0v6.4" stroke="#666" stroke-width="1.2"/>
<text x="324.4" y="967.5" font-size="14.6" fill="#555" text-anchor="middle" textLength="26.5" lengthAdjust="spacingAndGlyphs">Dec</text>
<path d="M464.3 948.0v6.4" stroke="#666" stroke-width="1.2"/>
<text x="464.3" y="967.5" font-size="14.6" fill="#555" text-anchor="middle" textLength="34.5" lengthAdjust="spacingAndGlyphs">2023</text>
<path d="M610.7 948.0v6.4" stroke="#666" stroke-width="1.2"/>
<text x="610.7" y="967.5" font-size="14.6" fill="#555" text-anchor="middle" textLength="25.5" lengthAdjust="spacingAndGlyphs">Feb</text>
<path d="M741.8 948.0v6.4" stroke="#666" stroke-width="1.2"/>
<text x="741.8" y="967.5" font-size="14.6" fill="#555" text-anchor="middle" textLength="27.5" lengthAdjust="spacingAndGlyphs">Mar</text>
<path d="M890.3 948.0v6.4" stroke="#666" stroke-width="1.2"/>
<text x="890.3" y="967.5" font-size="14.6" fill="#555" text-anchor="middle" textLength="25.5" lengthAdjust="spacingAndGlyphs">Apr</text>
<path d="M1028.1 948.0v6.4" stroke="#666" stroke-width="1.2"/>
<text x="1028.1" y="967.5" font-size="14.6" fill="#555" text-anchor="middle" textLength="30" lengthAdjust="spacingAndGlyphs">May</text>
<path d="M1175.3 948.0v6.4" stroke="#666" stroke-width="1.2"/>
<text x="1175.3" y="967.5" font-size="14.6" fill="#555" text-anchor="middle" textLength="23.5" lengthAdjust="spacingAndGlyphs">Jun</text>
<path d="M1319.3 948.0v6.4" stroke="#666" stroke-width="1.2"/>
<text x="1319.3" y="967.5" font-size="14.6" fill="#555" text-anchor="middle" textLength="17.5" lengthAdjust="spacingAndGlyphs">Jul</text>
<path d="M1461.7 948.0v6.4" stroke="#666" stroke-width="1.2"/>
<text x="1461.7" y="967.5" font-size="14.6" fill="#555" text-anchor="middle" textLength="27.5" lengthAdjust="spacingAndGlyphs">Aug</text>
<path d="M1615.5 948.0v6.4" stroke="#666" stroke-width="1.2"/>
<text x="1615.5" y="967.5" font-size="14.6" fill="#555" text-anchor="middle" textLength="31.5" lengthAdjust="spacingAndGlyphs">Sept</text>
<path d="M1780.5 948.0v6.4" stroke="#666" stroke-width="1.2"/>
<text x="1780.5" y="967.5" font-size="14.6" fill="#555" text-anchor="middle" textLength="24.5" lengthAdjust="spacingAndGlyphs">Oct</text>
<g fill="#ffffff" fill-opacity="0.35" stroke="#2e2e2e" stroke-width="1.4">
<rect x="1462" y="332.1" width="225.8" height="7.1"/>
<rect x="1242" y="496.1" width="445.8" height="5.8"/>
<rect x="567" y="564.3" width="1120.8" height="5.4"/>
</g>
<g stroke="#ff7200" stroke-width="6" stroke-linecap="round" fill="none">
<path d="M156 656.9L1588.1 171"/>
<path d="M243.8 903.9L1666 418.1"/>
</g>
<defs><filter id="sh" x="-30%" y="-30%" width="160%" height="160%"><feDropShadow dx="1" dy="1.2" stdDeviation="0.9" flood-color="#000" flood-opacity="0.55"/></filter></defs>
<path d="M1607.8 346.2L1591.8 359.6L1597.1 359.9L1588.1 398.4L1588.9 399.7L1607.8 363.5L1611.6 367.1Z" fill="#44787f" filter="url(#sh)"/>
<path d="M1593.9 464L1612.7 500.2L1617 496.4L1612.7 517.8L1596.3 503.5L1602 504Z" fill="#ff0a00" filter="url(#sh)"/>
<path d="M1847 441L1854.5 431.2H1902.3q1.6 0 1.6 1.6V449.2q0 1.6-1.6 1.6H1854.5Z" fill="#5f5ba8"/>
<text x="1864.2" y="446.1" font-size="13.6" fill="#ffffff" font-weight="bold" textLength="35.8" lengthAdjust="spacingAndGlyphs">26037</text>
<text x="20.5" y="159.1" font-size="13.4" fill="#1f1f1f" font-weight="bold" textLength="151" lengthAdjust="spacingAndGlyphs">BITCOIN (USD), DAILY</text>
<text x="13" y="912.6" font-size="12.2" fill="#9a9a9a" textLength="44.7" lengthAdjust="spacingAndGlyphs">TODAY:</text>
<text x="79" y="912.6" font-size="12.2" fill="#9a9a9a" textLength="12.2" lengthAdjust="spacingAndGlyphs">H:</text>
<text x="95.4" y="912.6" font-size="12.2" fill="#262626" textLength="36.4" lengthAdjust="spacingAndGlyphs">26242</text>
<text x="143" y="912.6" font-size="12.2" fill="#9a9a9a" textLength="9.2" lengthAdjust="spacingAndGlyphs">L:</text>
<text x="156.4" y="912.6" font-size="12.2" fill="#262626" textLength="36.8" lengthAdjust="spacingAndGlyphs">26020</text>
<text x="209.6" y="912.6" font-size="12.2" fill="#c9394c" textLength="17.6" lengthAdjust="spacingAndGlyphs">-81</text>
<text x="259.8" y="912.6" font-size="12.2" fill="#c9394c" textLength="32.9" lengthAdjust="spacingAndGlyphs">-0.3%</text>
<text x="13" y="929.8" font-size="12.2" fill="#9a9a9a" textLength="43.5" lengthAdjust="spacingAndGlyphs">CHART:</text>
<text x="79" y="929.8" font-size="12.2" fill="#9a9a9a" textLength="12.2" lengthAdjust="spacingAndGlyphs">H:</text>
<text x="95.4" y="929.8" font-size="12.2" fill="#262626" textLength="36.4" lengthAdjust="spacingAndGlyphs">32193</text>
<text x="143" y="929.8" font-size="12.2" fill="#9a9a9a" textLength="9.2" lengthAdjust="spacingAndGlyphs">L:</text>
<text x="156.4" y="929.8" font-size="12.2" fill="#262626" textLength="36.8" lengthAdjust="spacingAndGlyphs">15480</text>
<text x="209.6" y="929.8" font-size="12.2" fill="#2b98a8" textLength="29.6" lengthAdjust="spacingAndGlyphs">7546</text>
<text x="259.8" y="929.8" font-size="12.2" fill="#2b98a8" textLength="36.3" lengthAdjust="spacingAndGlyphs">40.8%</text>
<path d="M1489.4 916.9L1491.6 914.8L1499.6 921.2L1501.8 918.4L1503.9 928.2L1494.2 926.6L1496.8 924.0Z" fill="#5a5a5a"/>
<path d="M1520.2 928.2V925.2Q1520.2 921.2 1524.6 921.2H1530.6Q1535.4 921.2 1535.4 916.6V913.6" fill="none" stroke="#5a5a5a" stroke-width="2.6" stroke-linecap="round"/>
<g stroke="#5a5a5a" fill="none"><path d="M1545.1 910H1570M1545.1 932.7H1570" stroke-width="1.8"/><path d="M1545.1 914.9H1570M1545.1 928H1570" stroke-width="2.6" stroke-dasharray="5.2 4.7"/><path d="M1545.1 920.7H1570M1545.1 922.7H1570" stroke-width="1" stroke="#b9b9b9" stroke-dasharray="5.2 4.7"/></g>
<path d="M1575.7 909V933.3H1600M1575.7 933.3L1587.8 912.6M1575.7 933.3L1597.2 920.6" fill="none" stroke="#5a5a5a" stroke-width="1.3"/>
<path d="M1605.2 921H1629.9" stroke="#5a5a5a" stroke-width="1.9"/>
<path d="M1638.4 912L1657.4 931.4" stroke="#5a5a5a" stroke-width="1.9"/>
<rect x="1635.4" y="909.0" width="5.8" height="5.8" rx="0.8" fill="#5a5a5a"/><rect x="1654.6" y="928.4" width="5.8" height="5.8" rx="0.8" fill="#5a5a5a"/>
<rect x="1668.1" y="912.3" width="19.2" height="19" fill="none" stroke="#9b9b9b" stroke-width="1.7"/>
<text x="1698.1" y="923.9" font-size="11.6" fill="#5a5a5a" textLength="19.8" lengthAdjust="spacingAndGlyphs">Abc</text>
<path d="M1696.2 925.7H1718.9" stroke="#5a5a5a" stroke-width="1.1"/>
<path d="M1728.9 929.2L1745.8 913.2" stroke="#5a5a5a" stroke-width="1.6"/>
<path d="M1767.7 910.3V933.7" stroke="#5a5a5a" stroke-width="1.5"/>
<g transform="translate(1796 922.7) rotate(-36.5)"><rect x="-11.6" y="-3.6" width="23.2" height="7.2" fill="#5f5f5f"/><path d="M-9.3 3.6v-2.4M-6.7 3.6v-3.2M-4.1 3.6v-2.4M-1.5 3.6v-3.2M1.1 3.6v-2.4M3.7 3.6v-3.2M6.3 3.6v-2.4M8.9 3.6v-3.2" stroke="#fff" stroke-width="0.9"/></g>
<path d="M1818.1 917.4L1827.3 926.6M1827.3 917.4L1818.1 926.6" stroke="#a9a9a9" stroke-width="2.9"/></svg></body></html>
